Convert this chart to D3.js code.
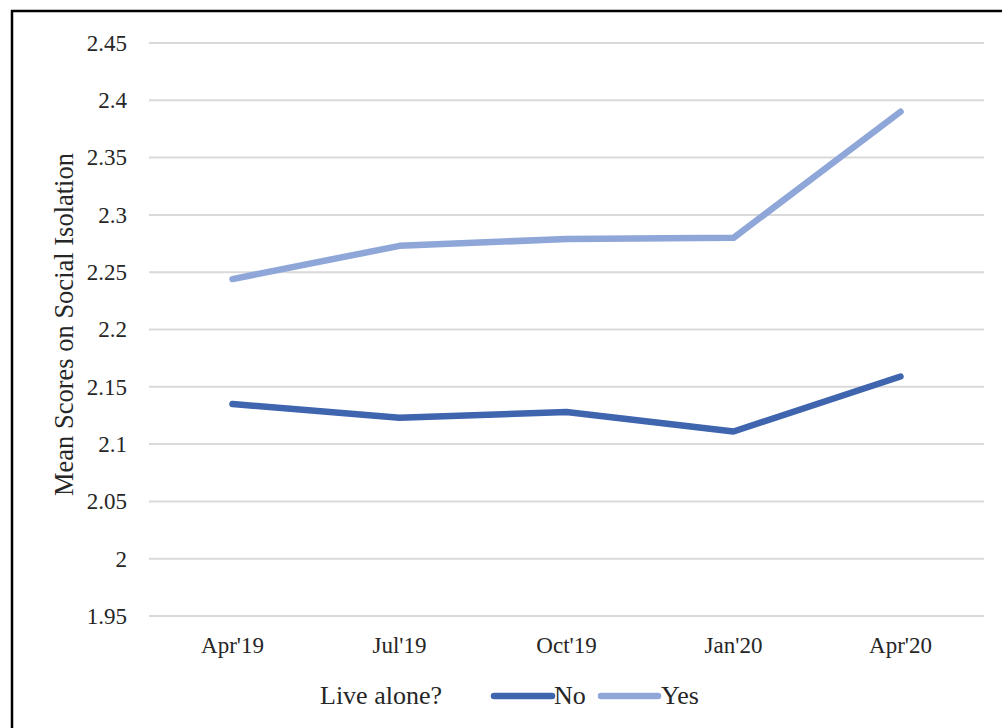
<!DOCTYPE html>
<html>
<head>
<meta charset="utf-8">
<script src="https://cdn.jsdelivr.net/npm/d3@7"></script>
<style>
  html, body { margin: 0; padding: 0; background: #fff; }
  svg { display: block; }
  text { font-family: "Liberation Serif", "Times New Roman", serif; fill: #262626; }
</style>
</head>
<body>
<svg id="chart" width="1002" height="728"></svg>
<script>
// Survey waves
const waves = ["Apr'19", "Jul'19", "Oct'19", "Jan'20", "Apr'20"];
// Mean social isolation score, by living arrangement
const noValues  = [2.135, 2.123, 2.128, 2.111, 2.159];
const yesValues = [2.244, 2.273, 2.279, 2.280, 2.390];
const yTicks = [1.95, 2, 2.05, 2.1, 2.15, 2.2, 2.25, 2.3, 2.35, 2.4, 2.45];
const seriesNames = ["No", "Yes"];
const seriesColors = ["#3F65AF", "#8EA6D8"];

const series = [
  { name: seriesNames[0], values: noValues, color: seriesColors[0] },
  { name: seriesNames[1], values: yesValues, color: seriesColors[1] }
];

const svg = d3.select("#chart");

// Outer frame
svg.append("rect")
  .attr("x", 12).attr("y", 11)
  .attr("width", 1010).attr("height", 740)
  .attr("fill", "none").attr("stroke", "#000").attr("stroke-width", 2.5);

const plot = { left: 149, right: 984, top: 43, bottom: 616 };

const x = d3.scaleBand().domain(waves).range([plot.left, plot.right]);
const y = d3.scaleLinear().domain([1.95, 2.45]).range([plot.bottom, plot.top]);

// Horizontal gridlines
svg.append("g")
  .selectAll("line")
  .data(yTicks)
  .join("line")
  .attr("x1", plot.left).attr("x2", plot.right)
  .attr("y1", d => y(d)).attr("y2", d => y(d))
  .attr("stroke", "#D9D9D9").attr("stroke-width", 2);

// Y axis labels
const yAxis = d3.axisLeft(y).tickValues(yTicks).tickSize(0).tickPadding(22)
  .tickFormat(d => String(+d.toFixed(2)));
svg.append("g")
  .attr("transform", `translate(${plot.left},0)`)
  .call(yAxis)
  .call(g => g.select(".domain").remove())
  .call(g => g.selectAll("text")
    .attr("font-family", "Liberation Serif")
    .attr("font-size", 23)
    .attr("fill", "#262626"));

// X axis labels
const xAxis = d3.axisBottom(x).tickSize(0).tickPadding(21);
svg.append("g")
  .attr("transform", `translate(0,${plot.bottom})`)
  .call(xAxis)
  .call(g => g.select(".domain").remove())
  .call(g => g.selectAll("text")
    .attr("font-family", "Liberation Serif")
    .attr("font-size", 23)
    .attr("fill", "#262626"));

// Y axis title
svg.append("text")
  .attr("transform", `translate(73,${(152 + 497) / 2}) rotate(-90)`)
  .attr("text-anchor", "middle")
  .attr("font-size", 26.5)
  .text("Mean Scores on Social Isolation");

// Series lines
const line = d3.line()
  .x((d, i) => x(waves[i]) + x.bandwidth() / 2)
  .y(d => y(d));

svg.append("g")
  .selectAll("path")
  .data(series)
  .join("path")
  .attr("d", d => line(d.values))
  .attr("fill", "none")
  .attr("stroke", d => d.color)
  .attr("stroke-width", 6.5)
  .attr("stroke-linecap", "round")
  .attr("stroke-linejoin", "round");

// Legend
const legend = svg.append("g");
legend.append("text")
  .attr("x", 320).attr("y", 704)
  .attr("font-size", 26)
  .text("Live alone?");

const legendItems = [
  { x1: 494, x2: 552, tx: 554 },
  { x1: 601, x2: 658, tx: 661 }
];
legendItems.forEach((p, i) => {
  legend.append("line")
    .attr("x1", p.x1).attr("x2", p.x2)
    .attr("y1", 696).attr("y2", 696)
    .attr("stroke", series[i].color)
    .attr("stroke-width", 6.5)
    .attr("stroke-linecap", "round");
  legend.append("text")
    .attr("x", p.tx).attr("y", 704)
    .attr("font-size", 26)
    .text(series[i].name);
});
</script>
</body>
</html>
